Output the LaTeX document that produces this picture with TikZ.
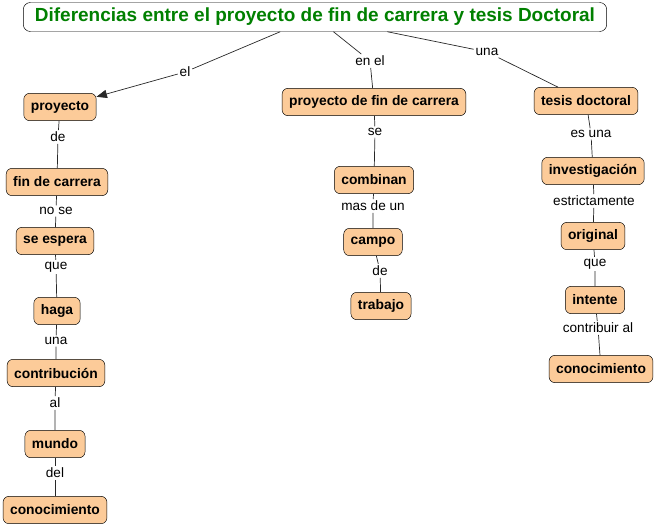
\documentclass[tikz,border=0pt]{standalone}
\usepackage{fontspec}
\setmainfont{Liberation Sans}
\usetikzlibrary{arrows.meta}
\definecolor{conceptfill}{RGB}{252,203,153}
\definecolor{titlegreen}{RGB}{0,128,0}
\definecolor{linkgray}{RGB}{40,40,40}

\begin{document}
\begin{tikzpicture}[x=0.03cm, y=-0.03cm, >={Triangle[length=9pt,width=7pt]},
    concept/.style={draw=black, fill=conceptfill, rounded corners=5pt, minimum height=0.82cm,
      inner xsep=0.21cm, font=\fontsize{11.8}{13}\selectfont\bfseries},
    linkword/.style={inner sep=1.5pt, font=\fontsize{11.6}{13}\selectfont},
    conn/.style={draw=linkgray, line width=0.6pt}]
        \useasboundingbox (0,0) rectangle (657,525);
        % title
        \node[draw=black, fill=white, rounded corners=6pt, minimum width=17.5cm, minimum height=0.87cm,
          text=titlegreen, font=\fontsize{16.2}{18}\selectfont\bfseries] (title) at (315,17)
          {Diferencias entre el proyecto de fin de carrera y tesis Doctoral};
        % left column
        \node[concept] (proyecto) at (60,107) {proyecto};
        \node[concept] (fin) at (57,182) {fin de carrera};
        \node[concept] (espera) at (55,241) {se espera};
        \node[concept] (haga) at (57,311) {haga};
        \node[concept] (contrib) at (56,373) {contribución};
        \node[concept] (mundo) at (55,444) {mundo};
        \node[concept] (conocA) at (55,510) {conocimiento};
        % middle column
        \node[concept] (pfc) at (374,102) {proyecto de fin de carrera};
        \node[concept] (combinan) at (374,180) {combinan};
        \node[concept] (campo) at (373,242) {campo};
        \node[concept] (trabajo) at (381,306) {trabajo};
        % right column
        \node[concept] (tesis) at (586,101) {tesis doctoral};
        \node[concept] (investig) at (593,171) {investigación};
        \node[concept] (original) at (593,236) {original};
        \node[concept] (intente) at (595,300) {intente};
        \node[concept] (conocB) at (601,369) {conocimiento};
        % linking words
        \node[linkword] (lel) at (185,72) {el};
        \node[linkword] (lenel) at (370,61) {en el};
        \node[linkword] (luna) at (487,52) {una};
        \node[linkword] (lde) at (58,137) {de};
        \node[linkword] (lnose) at (56,211) {no se};
        \node[linkword] (lque) at (56,267) {que};
        \node[linkword] (luna2) at (56,341) {una};
        \node[linkword] (lal) at (55,403) {al};
        \node[linkword] (ldel) at (55,473) {del};
        \node[linkword] (lse) at (375,132) {se};
        \node[linkword] (lmas) at (373,206) {mas de un};
        \node[linkword] (lde2) at (380,271) {de};
        \node[linkword] (lesuna) at (591,134) {es una};
        \node[linkword] (lestr) at (594,201) {estrictamente};
        \node[linkword] (lque2) at (595,264) {que};
        \node[linkword] (lcontr) at (598,328) {contribuir al};
        % connectors
        \draw[conn] (title) -- (lel);
        \draw[conn,->] (lel) -- (proyecto);
        \draw[conn] (title) -- (lenel) -- (pfc);
        \draw[conn] (title) -- (luna) -- (tesis);
        \draw[conn] (proyecto) -- (lde) -- (fin);
        \draw[conn] (fin) -- (lnose) -- (espera);
        \draw[conn] (espera) -- (lque) -- (haga);
        \draw[conn] (haga) -- (luna2) -- (contrib);
        \draw[conn] (contrib) -- (lal) -- (mundo);
        \draw[conn] (mundo) -- (ldel) -- (conocA);
        \draw[conn] (pfc) -- (lse) -- (combinan);
        \draw[conn] (combinan) -- (lmas) -- (campo);
        \draw[conn] (campo) -- (lde2) -- (trabajo);
        \draw[conn] (tesis) -- (lesuna) -- (investig);
        \draw[conn] (investig) -- (lestr) -- (original);
        \draw[conn] (original) -- (lque2) -- (intente);
        \draw[conn] (intente) -- (lcontr) -- (conocB);
      \end{tikzpicture}
\end{document}
